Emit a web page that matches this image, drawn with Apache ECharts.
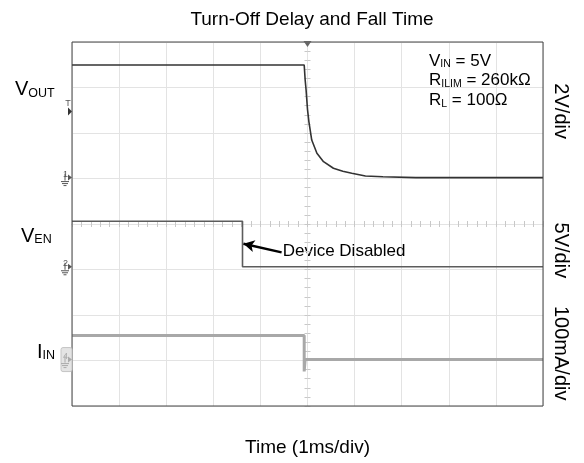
<!DOCTYPE html>
<html>
<head>
<meta charset="utf-8">
<script src="https://cdn.jsdelivr.net/npm/echarts@6/dist/echarts.min.js"></script>
<style>
  html, body { margin: 0; padding: 0; background: #fff; }
  #chart { width: 584px; height: 463px; }
</style>
</head>
<body>
<div id="chart"></div>
<script>
// scope capture, time in ms (1 ms/div, 10 div)
const voutTime = [0, 4.93, 4.95, 4.97, 5.0, 5.03, 5.09, 5.2, 5.34, 5.55, 5.75, 5.94, 6.23, 6.6, 7.3, 10];
const voutVolt = [4.95, 4.95, 4.3, 3.85, 3.0, 2.45, 1.65, 1.07, 0.7, 0.41, 0.28, 0.19, 0.07, 0.04, 0.0, 0.0];
const venTime = [0, 3.62, 3.62, 10];
const venVolt = [5.0, 5.0, 0.0, 0.0];
const iinTime = [0, 4.93, 4.93, 4.95, 10];
const iinMilliamp = [53, 53, -26, 0, 0];
const triggerVolt = 2.9;

// channel settings: ground position (div from bottom) and scale per div
const ch1 = { ground: 5.02, perDiv: 2 };
const ch2 = { ground: 3.06, perDiv: 5 };
const ch4 = { ground: 1.02, perDiv: 100 };

const FONT = "'Liberation Sans', Arial, sans-serif";

function toDiv(times, vals, ch) {
  return times.map((t, i) => [t, ch.ground + vals[i] / ch.perDiv]);
}

const chart = echarts.init(document.getElementById("chart"));

const centerAxis = (inside, idx) => ({
  x: {
    gridIndex: idx, type: "value", min: -5, max: 5, interval: 1,
    axisLine: { show: true, onZero: true, lineStyle: { color: "#e3e3e3" } },
    axisTick: { show: true, inside: inside, length: 3, lineStyle: { color: "#c8c8c8" } },
    minorTick: { show: true, splitNumber: 5, length: 3, lineStyle: { color: "#c8c8c8" } },
    axisLabel: { show: false }, splitLine: { show: false }
  },
  y: {
    gridIndex: idx, type: "value", min: -4, max: 4, interval: 1,
    axisLine: { show: true, onZero: true, lineStyle: { color: "#e3e3e3" } },
    axisTick: { show: true, inside: inside, length: 3, lineStyle: { color: "#c8c8c8" } },
    minorTick: { show: true, splitNumber: 5, length: 3, lineStyle: { color: "#c8c8c8" } },
    axisLabel: { show: false }, splitLine: { show: false }
  }
});
const c1 = centerAxis(true, 1);
const c2 = centerAxis(false, 2);
const gridBox = { left: 72, top: 42, width: 471, height: 364 };

let option = {
  animation: false,
  title: {
    text: "Turn-Off Delay and Fall Time",
    left: 307, top: 5, textAlign: "center",
    textStyle: { fontFamily: FONT, fontSize: 19, fontWeight: "normal", color: "#000" }
  },
  grid: [
    Object.assign({ show: true, borderColor: "#444", borderWidth: 1, backgroundColor: "transparent", z: 5 }, gridBox),
    Object.assign({}, gridBox),
    Object.assign({}, gridBox)
  ],
  xAxis: [
    {
      gridIndex: 0, type: "value", min: 0, max: 10, interval: 1,
      axisLine: { show: false }, axisTick: { show: false }, axisLabel: { show: false },
      splitLine: { show: true, lineStyle: { color: "#e3e3e3", width: 1 } },
      name: "Time (1ms/div)", nameLocation: "middle", nameGap: 32,
      nameTextStyle: { fontFamily: FONT, fontSize: 19, color: "#000" }
    },
    c1.x, c2.x
  ],
  yAxis: [
    {
      gridIndex: 0, type: "value", min: 0, max: 8, interval: 1,
      axisLine: { show: false }, axisTick: { show: false }, axisLabel: { show: false },
      splitLine: { show: true, lineStyle: { color: "#e3e3e3", width: 1 } }
    },
    c1.y, c2.y
  ],
  series: [
    {
      name: "IIN", type: "line", xAxisIndex: 0, yAxisIndex: 0, symbol: "none",
      data: toDiv(iinTime, iinMilliamp, ch4),
      lineStyle: { color: "#a8a8a8", width: 3 }, z: 3
    },
    {
      name: "VEN", type: "line", xAxisIndex: 0, yAxisIndex: 0, symbol: "none",
      data: toDiv(venTime, venVolt, ch2),
      lineStyle: { color: "#5c5c5c", width: 1.6 }, z: 4,
      markLine: {
        silent: true, symbol: ["none", "arrow"], symbolSize: [9, 11],
        label: { show: false },
        lineStyle: { color: "#000", width: 2.5, type: "solid" },
        data: [[{ coord: [4.45, 3.376] }, { coord: [3.64, 3.567] }]]
      }
    },
    {
      name: "VOUT", type: "line", xAxisIndex: 0, yAxisIndex: 0, symbol: "none",
      data: toDiv(voutTime, voutVolt, ch1),
      lineStyle: { color: "#333", width: 1.6 }, z: 4
    }
  ]
};
chart.setOption(option);

// decorations placed from grid coordinates
const px = (t, d) => chart.convertToPixel({ gridIndex: 0 }, [t, d]);
const g = [];
const txt = (x, y, rich, text, align, extra) => Object.assign({
  type: "text", x: x, y: y, silent: true,
  style: { text: text, rich: rich, fill: "#000", font: "20px " + FONT, align: align || "left", verticalAlign: "middle" }
}, extra || {});

const sub = (big, small) => ({
  m: { fontSize: big, fontFamily: FONT, verticalAlign: "bottom", lineHeight: big + 2 },
  s: { fontSize: small, fontFamily: FONT, verticalAlign: "bottom", lineHeight: big + 2 }
});

// channel labels on left
g.push(txt(15, px(0, 6.97)[1], sub(20, 12.5), "{m|V}{s|OUT}"));
g.push(txt(21, px(0, 3.75)[1], sub(20, 12.5), "{m|V}{s|EN}"));
g.push(txt(37, px(0, 1.2)[1], sub(20, 12.5), "{m|I}{s|IN}"));

// channel scales on right
const scaleLabel = (text, d) => ({
  type: "text", x: 561, y: px(10, d)[1], rotation: -Math.PI / 2, silent: true,
  style: { text: text, font: "20px " + FONT, fill: "#000", align: "center", verticalAlign: "middle" }
});
g.push(scaleLabel("2V/div", 6.48));
g.push(scaleLabel("5V/div", 3.42));
g.push(scaleLabel("100mA/div", 1.16));

// conditions text
const cond = sub(17, 10.5);
g.push(txt(429, px(10, 7.6)[1], cond, "{m|V}{s|IN}{m| = 5V}"));
g.push(txt(429, px(10, 7.17)[1], cond, "{m|R}{s|ILIM}{m| = 260kΩ}"));
g.push(txt(429, px(10, 6.73)[1], cond, "{m|R}{s|L}{m| = 100Ω}"));

// annotation
const ann = px(4.6, 3.41);
g.push({ type: "text", x: ann[0] - 6, y: ann[1], silent: true,
  style: { text: "Device Disabled", font: "17px " + FONT, fill: "#000", align: "left", verticalAlign: "middle" } });

// trigger marker on top
const trig = px(5, 8);
g.push({ type: "polygon", silent: true, shape: { points: [[trig[0] - 4, trig[1] - 1], [trig[0] + 4, trig[1] - 1], [trig[0], trig[1] + 5]] },
  style: { fill: "#666" }, z: 10 });

// channel ground markers
function groundMark(label, d, boxed) {
  const p = px(0, d);
  const x = p[0], y = p[1];
  const col = boxed ? "#aaa" : "#555";
  if (boxed) {
    g.push({ type: "rect", silent: true, shape: { x: x - 11, y: y - 12, width: 11, height: 24, r: 2 },
      style: { fill: "#e4e4e4", stroke: "#c4c4c4" }, z: 6 });
  }
  g.push({ type: "text", x: x - 9, y: y - 3, silent: true, z: 7,
    style: { text: label, font: "9px " + FONT, fill: col, align: "left", verticalAlign: "middle" } });
  g.push({ type: "polygon", silent: true, z: 7, shape: { points: [[x - 4, y - 3], [x, y], [x - 4, y + 3]] }, style: { fill: col } });
  g.push({ type: "line", silent: true, z: 7, shape: { x1: x - 7, y1: y - 4, x2: x - 7, y2: y + 3 }, style: { stroke: col, lineWidth: 1 } });
  [[4, 4], [6, 3], [8, 1.5]].forEach(function (r) {
    g.push({ type: "line", silent: true, z: 7, shape: { x1: x - 7 - r[1], y1: y + r[0], x2: x - 7 + r[1], y2: y + r[0] }, style: { stroke: col, lineWidth: 1 } });
  });
}
groundMark("1", ch1.ground, false);
groundMark("2", ch2.ground, false);
groundMark("4", ch4.ground, true);

// trigger level marker on left
const tl = px(0, ch1.ground + triggerVolt / ch1.perDiv);
g.push({ type: "polygon", silent: true, z: 7, shape: { points: [[tl[0] - 4, tl[1] - 4], [tl[0], tl[1]], [tl[0] - 4, tl[1] + 4]] }, style: { fill: "#333" } });
g.push({ type: "text", x: tl[0] - 4, y: tl[1] - 8, silent: true, z: 7,
  style: { text: "T", font: "9px " + FONT, fill: "#555", align: "center", verticalAlign: "middle" } });

chart.setOption({ graphic: g });
window.addEventListener("resize", () => chart.resize(), false);
</script>
</body>
</html>
